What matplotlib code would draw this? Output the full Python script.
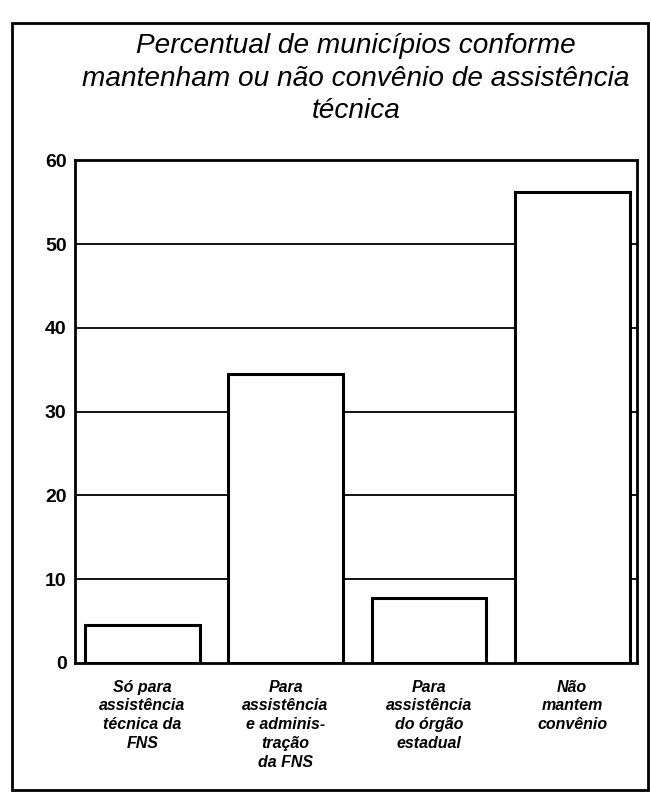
import matplotlib.pyplot as plt
from matplotlib.patches import Rectangle

categories = [
    "Só para\nassistência\ntécnica da\nFNS",
    "Para\nassistência\ne adminis-\ntração\nda FNS",
    "Para\nassistência\ndo órgão\nestadual",
    "Não\nmantem\nconvênio",
]
values = [4.5, 34.5, 7.7, 56.2]
yticks = [0, 10, 20, 30, 40, 50, 60]

title = "Percentual de municípios conforme\nmantenham ou não convênio de assistência\ntécnica"


def plot():
    plt.rcParams['font.family'] = ['Liberation Sans', 'DejaVu Sans']

    fig = plt.figure(figsize=(6.51, 7.94), dpi=100)
    ax = fig.add_axes([0.115, 0.165, 0.863, 0.633])

    # outer frame around the whole figure
    fig.patches.append(Rectangle((12 / 651, 4 / 794), 636 / 651, 767 / 794,
                                 transform=fig.transFigure, fill=False,
                                 edgecolor='black', linewidth=2))

    for y in yticks[1:-1]:
        ax.axhline(y, color='black', linewidth=1.3, zorder=1)

    x = range(len(values))
    ax.bar(x, values, width=0.8, color='white', edgecolor='black',
           linewidth=2.2, zorder=2)

    ax.set_ylim(0, 60)
    ax.set_xlim(-0.47, 3.45)
    ax.set_yticks(yticks)
    ax.set_yticklabels([str(v) for v in yticks], fontsize=14, fontweight='bold')
    ax.tick_params(axis='both', length=0, pad=6)

    ax.set_xticks(list(x))
    ax.set_xticklabels(categories, fontsize=11.5, fontweight='bold',
                       fontstyle='italic', linespacing=1.32, va='top')
    ax.tick_params(axis='x', pad=12)

    for s in ax.spines.values():
        s.set_linewidth(2)
        s.set_color('black')

    fig.text(0.547, 0.901, title, ha='center', va='center', fontsize=20.2,
             fontstyle='italic', linespacing=1.34)

    plt.savefig("out.png", dpi=100)


def main():
    plot()


if __name__ == "__main__":
    main()
